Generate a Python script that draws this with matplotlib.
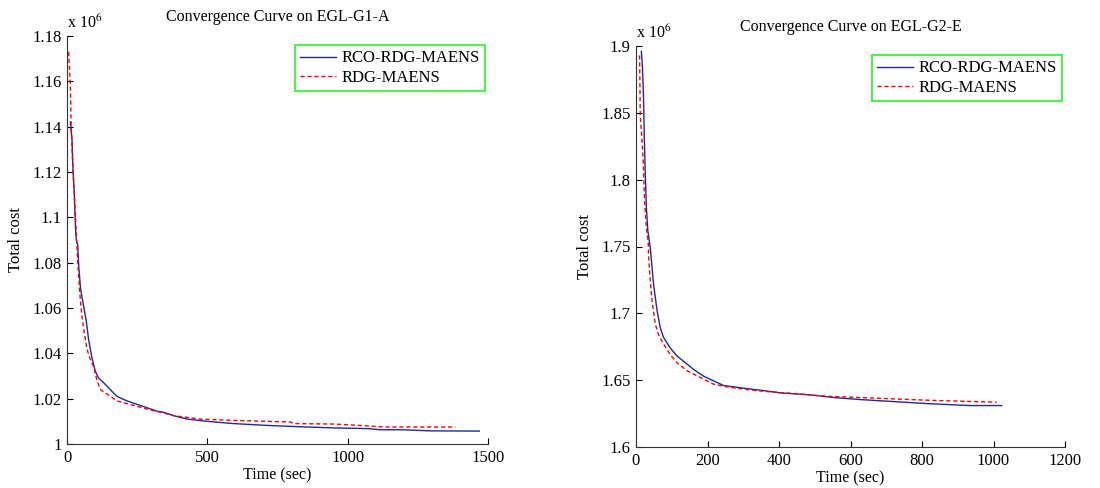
import numpy as np
import matplotlib
matplotlib.use("Agg")
import matplotlib.pyplot as plt
from matplotlib.ticker import FuncFormatter

plt.rcParams['font.family'] = ['Liberation Serif', 'DejaVu Serif']
plt.rcParams['mathtext.fontset'] = 'stix'

# EGL-G1-A, total cost in units of 1e6
g1_rco_t = [12, 18, 21, 26, 30, 33, 38, 42, 48, 53, 59, 69, 77, 89, 101, 113, 131, 154, 178,
            214, 261, 321, 344, 380, 428, 499, 594, 713, 831, 950, 1069, 1116, 1188, 1295, 1469]
g1_rco_y = [1.142, 1.134, 1.122, 1.110, 1.096, 1.090, 1.088, 1.078, 1.069, 1.065, 1.061, 1.054,
            1.046, 1.038, 1.032, 1.029, 1.027, 1.024, 1.021, 1.019, 1.017, 1.0145, 1.014, 1.0125,
            1.011, 1.010, 1.009, 1.0082, 1.0076, 1.0071, 1.0068, 1.0063, 1.0063, 1.0058, 1.0057]
g1_rdg_t = [6, 12, 15, 21, 30, 38, 43, 48, 53, 59, 71, 81, 95, 107, 119, 143, 178, 238, 297,
            333, 380, 475, 594, 713, 796, 808, 950, 998, 1069, 1128, 1384]
g1_rdg_y = [1.173, 1.158, 1.140, 1.122, 1.101, 1.081, 1.071, 1.063, 1.057, 1.051, 1.042, 1.038,
            1.034, 1.028, 1.024, 1.022, 1.019, 1.017, 1.015, 1.014, 1.0125, 1.011, 1.0104, 1.010,
            1.0097, 1.009, 1.0088, 1.0085, 1.008, 1.0075, 1.0075]

# EGL-G2-E
g2_rco_t = [15, 18, 21, 23, 26, 29, 33, 40, 45, 49, 54, 59, 68, 77, 96, 115, 143, 161, 189,
            217, 245, 301, 348, 403, 487, 553, 627, 720, 813, 934, 1023]
g2_rco_y = [1.896, 1.884, 1.862, 1.834, 1.804, 1.779, 1.762, 1.749, 1.734, 1.722, 1.712, 1.702,
            1.689, 1.682, 1.674, 1.668, 1.662, 1.658, 1.653, 1.6495, 1.646, 1.644, 1.6425, 1.6405,
            1.639, 1.637, 1.6355, 1.634, 1.6325, 1.631, 1.631]
g2_rdg_t = [10, 12, 17, 21, 24, 29, 34, 36, 40, 45, 54, 63, 77, 96, 115, 143, 180, 217, 254,
            310, 366, 441, 534, 627, 720, 813, 1009]
g2_rdg_y = [1.893, 1.847, 1.829, 1.809, 1.784, 1.764, 1.754, 1.739, 1.724, 1.709, 1.692, 1.684,
            1.677, 1.669, 1.663, 1.657, 1.652, 1.647, 1.645, 1.643, 1.6415, 1.640, 1.638, 1.637,
            1.636, 1.635, 1.6335]

panels = [
    dict(title="Convergence Curve on EGL-G1-A", rco=(g1_rco_t, g1_rco_y), rdg=(g1_rdg_t, g1_rdg_y),
         xlim=(0, 1500), xticks=[0, 500, 1000, 1500],
         ylim=(1.0, 1.18), yticks=np.arange(1.0, 1.181, 0.02),
         rect=[67/1100, 1-444/488, 421/1100, 408/488]),
    dict(title="Convergence Curve on EGL-G2-E", rco=(g2_rco_t, g2_rco_y), rdg=(g2_rdg_t, g2_rdg_y),
         xlim=(0, 1200), xticks=[0, 200, 400, 600, 800, 1000, 1200],
         ylim=(1.6, 1.9), yticks=np.arange(1.6, 1.901, 0.05),
         rect=[636/1100, 1-447/488, 429/1100, 401/488]),
]

fig = plt.figure(figsize=(11, 4.88), dpi=100)

for p in panels:
    ax = fig.add_axes(p['rect'])
    ax.plot(*p['rco'], color='#1c2a9e', lw=1.0, label='RCO-RDG-MAENS')
    ax.plot(*p['rdg'], color='#ff0000', lw=1.0, ls=(0, (3, 2)), label='RDG-MAENS')
    ax.set_xlim(*p['xlim'])
    ax.set_ylim(*p['ylim'])
    ax.set_xticks(p['xticks'])
    ax.set_yticks(p['yticks'])
    ax.yaxis.set_major_formatter(FuncFormatter(lambda v, pos: '%g' % round(v, 4)))
    for s in ['top', 'right']:
        ax.spines[s].set_visible(False)
    for s in ['left', 'bottom']:
        ax.spines[s].set_color('#333333')
    ax.tick_params(direction='in', length=4, labelsize=12, pad=4)
    ax.set_title(p['title'], fontsize=11.5, pad=11)
    ax.set_xlabel('Time (sec)', fontsize=11.5, labelpad=1)
    ax.set_ylabel('Total cost', fontsize=12, labelpad=6)
    ax.text(0.0, 1.01, r'x 10$^{6}$', transform=ax.transAxes, fontsize=11.5,
            ha='left', va='bottom')
    leg = ax.legend(loc='upper right', bbox_to_anchor=(1.0, 0.985), fontsize=12,
                    frameon=True, fancybox=False, handlelength=2.2, handletextpad=0.3,
                    borderpad=0.3, labelspacing=0.2, borderaxespad=0.2)
    leg.get_frame().set_edgecolor('#22ee22')
    leg.get_frame().set_linewidth(1.5)

fig.savefig('out.png', dpi=100)
